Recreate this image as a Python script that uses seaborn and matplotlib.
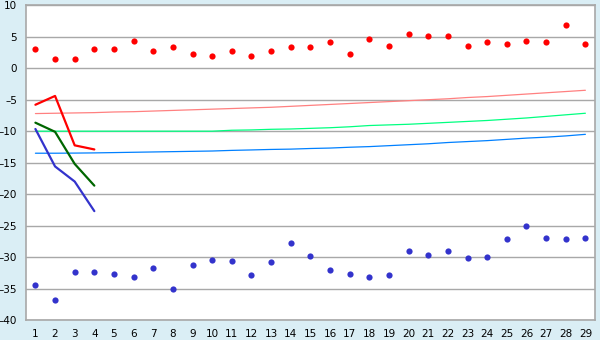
import numpy as np
import pandas as pd
import matplotlib
matplotlib.use("Agg")
import matplotlib.pyplot as plt
import seaborn as sns

x = list(range(1, 30))

red_points = [3.0, 1.4, 1.4, 3.0, 3.0, 4.4, 2.8, 3.3, 2.2, 1.9,
              2.8, 2.0, 2.8, 3.3, 3.3, 4.1, 2.2, 4.6, 3.5, 5.5,
              5.2, 5.2, 3.6, 4.1, 3.8, 4.3, 4.1, 6.8, 3.8]
blue_points = [-34.5, -36.9, -32.4, -32.4, -32.7, -33.2, -31.8, -35.0, -31.3, -30.5,
               -30.7, -32.9, -30.8, -27.8, -29.9, -32.1, -32.7, -33.2, -32.9, -29.1,
               -29.7, -29.1, -30.2, -30.0, -27.2, -25.1, -27.0, -27.2, -26.9]

x_short = [1, 2, 3, 4]
red_thick = [-5.8, -4.4, -12.25, -12.9]
green_thick = [-8.65, -10.1, -15.2, -18.65]
blue_thick = [-9.65, -15.6, -18.0, -22.7]

pink_thin = [-7.2, -7.15, -7.1, -7.05, -6.95, -6.9, -6.8, -6.7, -6.6, -6.5,
             -6.4, -6.3, -6.2, -6.05, -5.9, -5.75, -5.6, -5.45, -5.3, -5.15,
             -5.0, -4.85, -4.65, -4.5, -4.3, -4.1, -3.9, -3.7, -3.5]
green_thin = [-10.0, -10.0, -10.0, -10.0, -10.0, -10.0, -10.0, -10.0, -10.0, -10.0,
              -9.85, -9.8, -9.7, -9.65, -9.55, -9.45, -9.3, -9.1, -9.0, -8.9,
              -8.75, -8.6, -8.45, -8.3, -8.1, -7.9, -7.65, -7.4, -7.15]
blue_thin = [-13.5, -13.5, -13.48, -13.45, -13.4, -13.35, -13.3, -13.25, -13.2, -13.15,
             -13.05, -12.98, -12.9, -12.85, -12.75, -12.68, -12.55, -12.45, -12.3, -12.15,
             -12.0, -11.8, -11.65, -11.5, -11.3, -11.1, -10.95, -10.75, -10.5]

y_ticks = list(range(-40, 11, 5))

bg = "#DAEEF5"
sns.set_style("white")
plt.rcParams['font.family'] = ['DejaVu Sans']

fig = plt.figure(figsize=(6, 3.4), dpi=100, facecolor=bg)
ax = fig.add_axes([0.0433, 0.0588, 0.9484, 0.9256])
ax.set_facecolor("white")

lw_thin = 0.9
lw_thick = 1.6
sns.lineplot(x=x, y=pink_thin, ax=ax, color="#FF8080", lw=lw_thin, zorder=3)
sns.lineplot(x=x, y=green_thin, ax=ax, color="#00FF80", lw=lw_thin, zorder=3)
sns.lineplot(x=x, y=blue_thin, ax=ax, color="#0080FF", lw=lw_thin, zorder=3)

sns.lineplot(x=x_short, y=red_thick, ax=ax, color="#FF0000", lw=lw_thick, zorder=4)
sns.lineplot(x=x_short, y=green_thick, ax=ax, color="#006600", lw=lw_thick, zorder=4)
sns.lineplot(x=x_short, y=blue_thick, ax=ax, color="#3333CC", lw=lw_thick, zorder=4)

sns.scatterplot(x=x, y=red_points, ax=ax, color="#FF0000", marker="o", s=20,
                linewidth=0, zorder=5)
sns.scatterplot(x=x, y=blue_points, ax=ax, color="#3333CC", marker="o", s=20,
                linewidth=0, zorder=5)

ax.set_xlim(0.52, 29.49)
ax.set_ylim(-40, 10)
ax.set_xticks(x)
ax.set_xticklabels([str(v) for v in x])
ax.set_yticks(y_ticks)
ax.set_yticklabels([str(v).replace("-", "\u2013") for v in y_ticks])
ax.grid(axis="y", color="#A8A8A8", lw=1.0, zorder=0)
ax.set_axisbelow(True)
for s in ax.spines.values():
    s.set_color("#A8A8A8")
    s.set_linewidth(1.2)
ax.tick_params(axis="both", direction="out", length=5, width=1, color="#555555",
               labelsize=7.5, labelcolor="#000000", pad=1.5)
ax.set_xlabel("")
ax.set_ylabel("")

fig.savefig("out.png", dpi=100, facecolor=bg)
